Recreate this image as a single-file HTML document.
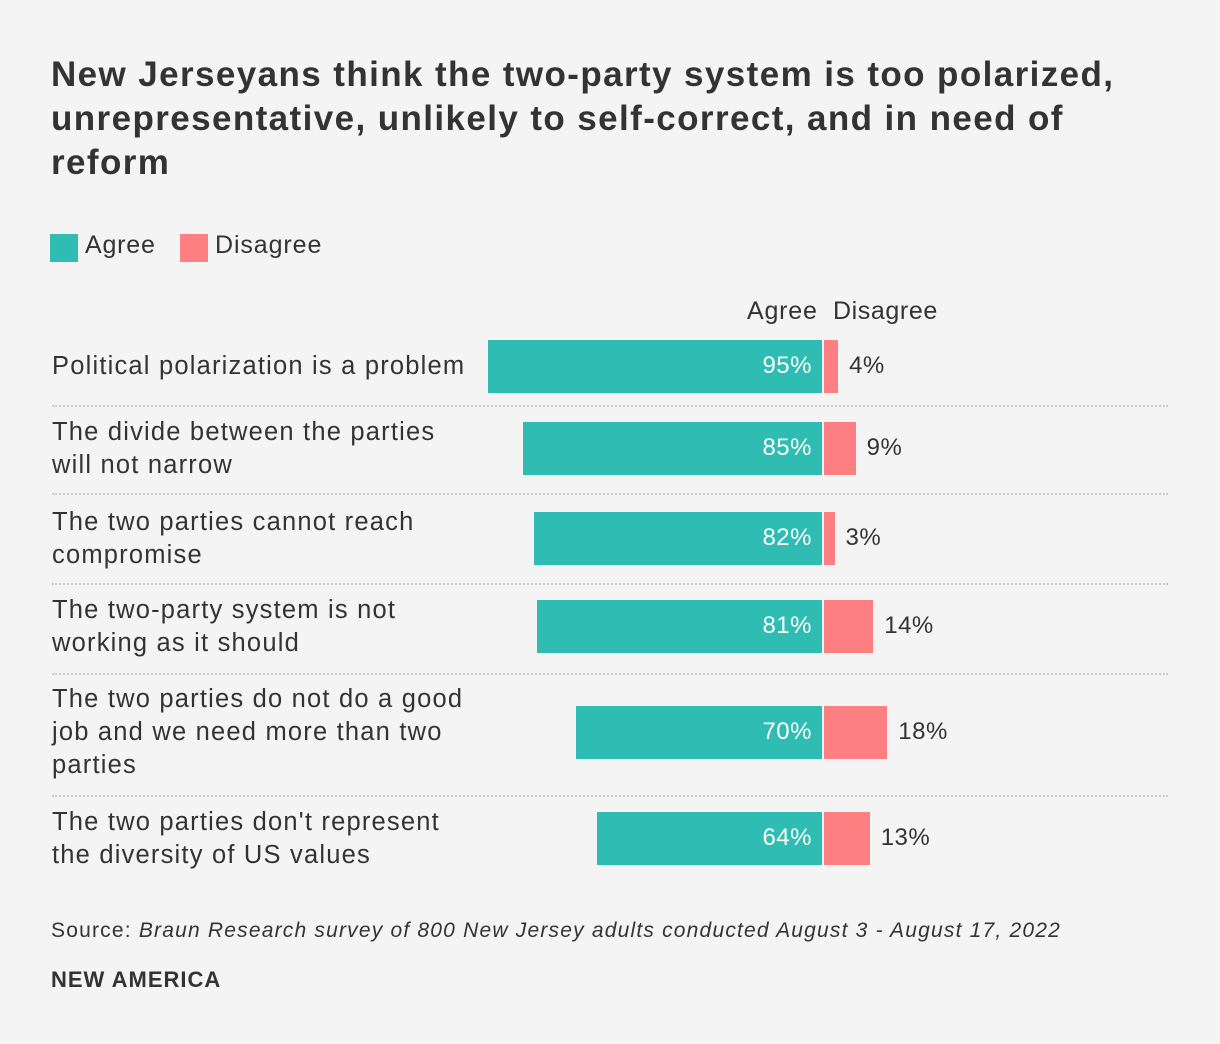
<!DOCTYPE html>
<html><head><meta charset="utf-8"><style>
body{margin:0;background:#f4f4f4;width:1220px;height:1044px;overflow:hidden;font-family:"Liberation Sans",sans-serif;color:#333;position:relative}
.t{position:absolute;white-space:nowrap}
h1{position:absolute;left:51px;top:53px;margin:0;font-size:35px;line-height:44px;font-weight:bold;color:#333;width:1160px;letter-spacing:1.4px;white-space:nowrap}
</style></head><body>
<h1>New Jerseyans think the two-party system is too polarized,<br>unrepresentative, unlikely to self-correct, and in need of<br>reform</h1>
<div>
<div style="position:absolute;left:50px;top:234px;width:28px;height:28px;background:#2fbcb3"></div>
<div class="t" style="left:85px;top:231px;font-size:25px;letter-spacing:0.8px">Agree</div>
<div style="position:absolute;left:180px;top:234px;width:28px;height:28px;background:#fe7f82"></div>
<div class="t" style="left:215px;top:231px;font-size:25px;letter-spacing:0.9px">Disagree</div>
</div>
<div class="t" style="left:747px;top:297px;font-size:25px;letter-spacing:0.8px">Agree</div>
<div class="t" style="left:833px;top:297px;font-size:25px;letter-spacing:0.6px">Disagree</div>
<div id="chart"></div>
<div class="t" style="left:51px;top:919px;font-size:21px;letter-spacing:1.2px">Source: <i>Braun Research survey of 800 New Jersey adults conducted August 3 - August 17, 2022</i></div>
<div class="t" style="left:51px;top:967px;font-size:22px;font-weight:bold;letter-spacing:1px">NEW AMERICA</div>
<script>
const categories=["Political polarization is a problem","The divide between the parties<br>will not narrow","The two parties cannot reach<br>compromise","The two-party system is not<br>working as it should","The two parties do not do a good<br>job and we need more than two<br>parties","The two parties don't represent<br>the diversity of US values"];
const agree=[95,85,82,81,70,64];
const disagree=[4,9,3,14,18,13];
const rowTops=[340,422,512,600,706,812];
const sepYs=[405,493,583,673,795];
const cx=822,scale=3.516,bh=53;
const x=v=>v*scale;
const c=document.getElementById('chart');
function mk(style,html){const d=document.createElement('div');d.style.cssText=style;if(html!=null)d.innerHTML=html;c.appendChild(d);return d;}
categories.forEach((cat,i)=>{
  const top=rowTops[i];
  const lines=cat.split('<br>').length;
  const l=mk(`position:absolute;left:52px;top:${top+bh/2-lines*33/2}px;font-size:25.5px;letter-spacing:1.2px;line-height:33px;white-space:nowrap`,cat);
  
  
  const a=mk(`position:absolute;left:${cx-x(agree[i])}px;top:${top}px;width:${x(agree[i])}px;height:${bh}px;background:#2fbcb3`);
  
  
  const at=mk(`position:absolute;right:${1220-cx+10}px;top:${top+12}px;font-size:24px;letter-spacing:0.5px;color:#fff;white-space:nowrap`,agree[i]+'%');
  
  
  const d=mk(`position:absolute;left:${cx+2}px;top:${top}px;width:${x(disagree[i])}px;height:${bh}px;background:#fe7f82`);
  
  
  const dt=mk(`position:absolute;left:${cx+2+x(disagree[i])+11}px;top:${top+12}px;font-size:24px;letter-spacing:0.5px;white-space:nowrap`,disagree[i]+'%');
  
  
});
sepYs.forEach(y=>{
  const s=mk(`position:absolute;left:52px;top:${y}px;width:1116px;height:0;border-top:2px dotted #ccc`);
  
  
});
</script>
</body></html>
